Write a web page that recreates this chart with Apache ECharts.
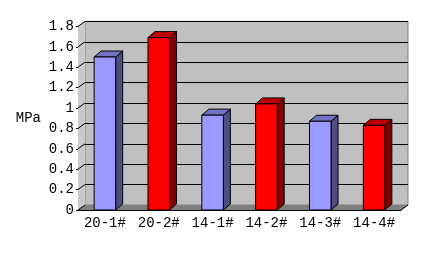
<!DOCTYPE html>
<html><head><meta charset="utf-8">
<script src="https://cdn.jsdelivr.net/npm/echarts@6/dist/echarts.min.js"></script>
<style>html,body{margin:0;padding:0;background:#fff}#c{width:426px;height:254px}</style>
</head><body><div id="c"></div>
<script>
var categories = ['20-1#', '20-2#', '14-1#', '14-2#', '14-3#', '14-4#'];
var values = [1.5, 1.69, 0.93, 1.04, 0.87, 0.83];
var yTicks = [0, 0.2, 0.4, 0.6, 0.8, 1, 1.2, 1.4, 1.6, 1.8];
var yTickLabels = ['0', '0.2', '0.4', '0.6', '0.8', '1', '1.2', '1.4', '1.6', '1.8'];
var yName = 'MPa';

var DX = 7, DY = -5;
var FONT = '"Liberation Mono", "DejaVu Sans Mono", monospace';
var FS = 14;
var fronts = ['#9999ff', '#ff0000'];
var tops = ['#7373c6', '#c00000'];
var sides = ['#4d4d80', '#800000'];

var chart = echarts.init(document.getElementById('c'), null, {renderer: 'canvas'});
chart.setOption({
  animation: false,
  backgroundColor: '#ffffff',
  grid: [
    {left: 78, right: 25, top: 26.4, bottom: 44},
    {left: 85, right: 18, top: 21.4, bottom: 49, show: true, backgroundColor: '#c0c0c0', borderColor: '#808080', borderWidth: 1}
  ],
  xAxis: [
    {type: 'category', gridIndex: 0, data: categories,
     axisLine: {show: true, lineStyle: {color: '#000', width: 1}},
     axisTick: {show: true, inside: true, length: 3, lineStyle: {color: '#000'}},
     axisLabel: {color: '#000', fontFamily: FONT, fontSize: FS, margin: 6, interval: 0, hideOverlap: false}},
    {type: 'category', gridIndex: 1, data: categories, show: false}
  ],
  yAxis: [
    {type: 'value', gridIndex: 0, min: 0, max: 1.8, interval: 0.2,
     name: yName, nameLocation: 'middle', nameRotate: 0, nameGap: 37,
     nameTextStyle: {color: '#000', fontFamily: FONT, fontSize: FS, align: 'right'},
     axisLine: {show: true, lineStyle: {color: '#000', width: 1}},
     axisTick: {show: true, length: 2, lineStyle: {color: '#000'}},
     splitLine: {show: false},
     axisLabel: {color: '#000', fontFamily: FONT, fontSize: FS, margin: 4,
       formatter: function (v) { var i = yTicks.findIndex(function (t) { return Math.abs(t - v) < 1e-6; }); return i >= 0 ? yTickLabels[i] : ''; }}},
    {type: 'value', gridIndex: 1, min: 0, max: 1.8, interval: 0.2,
     axisLine: {show: false}, axisTick: {show: false}, axisLabel: {show: false},
     splitLine: {show: true, lineStyle: {color: '#000', width: 1}}}
  ],
  series: [
    {type: 'custom', xAxisIndex: 0, yAxisIndex: 0, z: 1, silent: true,
     data: yTicks.map(function (v) { return [0, v]; }),
     renderItem: function (params, api) {
       var cs = params.coordSys;
       var x0 = cs.x, x1 = cs.x + cs.width;
       var yv = api.coord([0, api.value(1)])[1];
       var y0 = api.coord([0, 0])[1];
       var yTop = api.coord([0, 1.8])[1];
       var children = [];
       if (params.dataIndex === 0) {
         children.push({type: 'polygon', shape: {points: [[x0, y0], [x0, yTop], [x0 + DX, yTop + DY], [x0 + DX, y0 + DY]]},
           style: {fill: '#cacaca', stroke: null}});
         children.push({type: 'polygon', shape: {points: [[x0, y0], [x1, y0], [x1 + DX, y0 + DY], [x0 + DX, y0 + DY]]},
           style: {fill: '#808080', stroke: null}});
         children.push({type: 'line', shape: {x1: x1, y1: y0, x2: x1 + DX, y2: y0 + DY}, style: {stroke: '#000', lineWidth: 1}});
       }
       children.push({type: 'line', shape: {x1: x0, y1: yv, x2: x0 + DX, y2: yv + DY}, style: {stroke: '#000', lineWidth: 1}});
       return {type: 'group', children: children};
     }},
    {type: 'custom', xAxisIndex: 0, yAxisIndex: 0, z: 3,
     data: values.map(function (v, i) { return [i, v]; }),
     renderItem: function (params, api) {
       var i = api.value(0);
       var top = api.coord([i, api.value(1)]);
       var bot = api.coord([i, 0]);
       var w = api.size([1, 0])[0] * 0.4;
       var xl = top[0] - w / 2, xr = top[0] + w / 2;
       var yt = top[1], yb = bot[1];
       var k = i % 2;
       var bx = 7, by = -6;
       return {type: 'group', children: [
         {type: 'polygon', shape: {points: [[xr, yt], [xr + bx, yt + by], [xr + bx, yb + by], [xr, yb]]},
          style: {fill: sides[k], stroke: '#000', lineWidth: 1}},
         {type: 'polygon', shape: {points: [[xl, yt], [xl + bx, yt + by], [xr + bx, yt + by], [xr, yt]]},
          style: {fill: tops[k], stroke: '#000', lineWidth: 1}},
         {type: 'rect', shape: {x: xl, y: yt, width: w, height: yb - yt},
          style: {fill: fronts[k], stroke: '#000', lineWidth: 1}}
       ]};
     }}
  ]
});
</script></body></html>
